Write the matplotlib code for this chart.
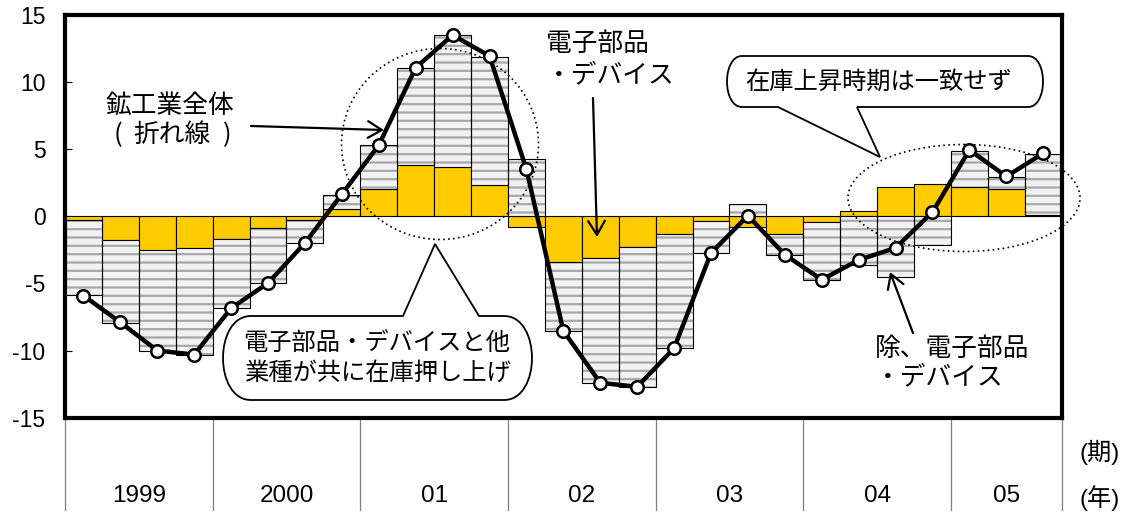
import numpy as np
import matplotlib.pyplot as plt
from matplotlib.patches import Ellipse, PathPatch
from matplotlib.path import Path
from matplotlib.transforms import Affine2D

plt.rcParams['font.family'] = ['Liberation Sans', 'Noto Sans CJK JP']
plt.rcParams['hatch.linewidth'] = 1.6
JP = 'Noto Sans CJK JP'

# ----------------------------
# Data: inventory, y/y contribution (%), 1999 Q1 - 2005 Q3
# ----------------------------
years = ["1999", "2000", "01", "02", "03", "04", "05"]
quarters_per_year = [4, 4, 4, 4, 4, 4, 3]

# 電子部品・デバイス
elec = [-0.25, -1.74, -2.54, -2.36, -1.66, -0.90, -0.25, 0.57,
        2.07, 3.80, 3.66, 2.37, -0.79, -3.43, -3.10, -2.28,
        -1.31, -0.32, -0.79, -1.30, -0.42, 0.37, 2.19, 2.42,
        2.19, 2.04, 0.13]
# 除、電子部品・デバイス
others = [-5.60, -6.22, -7.46, -7.94, -5.18, -4.07, -1.74, 1.05,
          3.23, 7.27, 9.84, 9.53, 4.30, -5.10, -9.29, -10.45,
          -8.51, -2.41, 0.93, -1.56, -4.30, -3.66, -4.52, -2.11,
          2.71, 0.87, 4.53]
# 鉱工業全体
total = [-5.90, -7.90, -10.00, -10.30, -6.84, -4.97, -1.99, 1.65,
         5.30, 11.07, 13.50, 11.95, 3.50, -8.53, -12.40, -12.70,
         -9.82, -2.73, 0.05, -2.86, -4.72, -3.25, -2.35, 0.32,
         4.95, 2.97, 4.70]

y_ticks = [-15, -10, -5, 0, 5, 10, 15]
y_labels = ["-15", "-10", "-5", "0", "5", "10", "15"]

# ----------------------------
# Figure / axes
# ----------------------------
W, H = 1131, 515
fig = plt.figure(figsize=(W / 100, H / 100), dpi=100)
ax = fig.add_axes([65 / W, 1 - 417.7 / H, 996.7 / W, 402.7 / H])

# pixel (top-left origin) -> figure
to_fig = Affine2D().scale(1 / W, -1 / H).translate(0, 1) + fig.transFigure


def P(x, y):
    return (x / W, 1 - y / H)


x = np.arange(len(total))
# stack the "others" bar on top of the electronics bar when signs agree
other_bottom = [e if (e >= 0) == (o >= 0) else 0 for e, o in zip(elec, others)]

ax.bar(x, elec, width=1.0, color="#FFCC00", edgecolor="black",
       linewidth=0.8, zorder=2)
ax.bar(x, others, width=1.0, bottom=other_bottom, color="#F2F2F2",
       edgecolor="#A8A8A8", hatch="--", linewidth=0, zorder=2)
ax.bar(x, others, width=1.0, bottom=other_bottom, fill=False,
       edgecolor="black", linewidth=0.8, zorder=2)

ax.plot(x, total, color="black", lw=3.2, marker="o", ms=9,
        mfc="white", mec="black", mew=1.8, zorder=6)

ax.set_xlim(-0.5, len(total) - 0.5)
ax.set_ylim(-15, 15)
ax.set_yticks(y_ticks)
ax.set_yticklabels(y_labels)
ax.tick_params(axis="y", direction="in", length=5, width=0.8,
               pad=14, labelsize=16.5)
ax.set_xticks([])
for s in ax.spines.values():
    s.set_linewidth(3)
    s.set_zorder(8)

# ----------------------------
# Year axis below the plot
# ----------------------------
trans = ax.get_xaxis_transform()
bounds = np.cumsum([0] + quarters_per_year) - 0.5
for b in bounds:
    ax.plot([b, b], [0, -0.23], transform=trans, color="#7F7F7F",
            lw=0.9, clip_on=False)
for i, yr in enumerate(years):
    c = (bounds[i] + bounds[i + 1]) / 2
    ax.text(c, -0.194, yr, transform=trans, ha="center", va="center",
            fontsize=17.5)

fig.text(*P(1100, 452), "(期)", ha="center", va="center", fontsize=17.5)
fig.text(*P(1100, 498), "(年)", ha="center", va="center", fontsize=17.5)

# ----------------------------
# Annotations
# ----------------------------
def bubble(x0, y0, x1, y1, rx, tail, side):
    """Rounded callout with bulging sides; tail = (base0, tip, base1)."""
    b0, tip, b1 = tail
    verts = [(x0 + rx, y0)]
    codes = [Path.MOVETO]
    if side == "top":
        verts += [(b0, y0), tip, (b1, y0)]
        codes += [Path.LINETO] * 3
    verts += [(x1 - rx, y0),
              (x1 + rx / 3, y0), (x1 + rx / 3, y1), (x1 - rx, y1)]
    codes += [Path.LINETO, Path.CURVE4, Path.CURVE4, Path.CURVE4]
    if side == "bottom":
        verts += [(b1, y1), tip, (b0, y1)]
        codes += [Path.LINETO] * 3
    verts += [(x0 + rx, y1),
              (x0 - rx / 3, y1), (x0 - rx / 3, y0), (x0 + rx, y0)]
    codes += [Path.LINETO, Path.CURVE4, Path.CURVE4, Path.CURVE4]
    verts.append((x0 + rx, y0))
    codes.append(Path.CLOSEPOLY)
    return PathPatch(Path(verts, codes), transform=to_fig, facecolor="white",
                     edgecolor="black", lw=1.3, clip_on=False, zorder=5)


ax.add_patch(bubble(223, 316, 532, 400, 28,
                    (403, (435, 244), 479), "top"))
ax.add_patch(bubble(727, 56, 1043, 107, 15,
                    (778, (880, 157), 857), "bottom"))

fig.text(*P(377, 343), "電子部品・デバイスと他", ha="center", va="center",
         fontsize=17.5, family=JP, zorder=7)
fig.text(*P(377, 373), "業種が共に在庫押し上げ", ha="center", va="center",
         fontsize=17.5, family=JP, zorder=7)
fig.text(*P(878, 82), "在庫上昇時期は一致せず", ha="center", va="center",
         fontsize=17.5, family=JP, zorder=7)

# dotted ellipses
for cx, cy, w, h in [(440, 144, 197, 191), (964, 198, 232, 107)]:
    ax.add_patch(Ellipse((cx, cy), w, h, transform=to_fig, fill=False,
                         edgecolor="black", lw=1.2, ls=(0, (1, 2)),
                         clip_on=False, zorder=4))

# free labels
fig.text(*P(105, 106), "鉱工業全体", ha="left", va="center",
         fontsize=18.5, family=JP)
fig.text(*P(118, 135), "(", ha="center", va="center",
         fontsize=18.5, family=JP)
fig.text(*P(172, 135), "折れ線", ha="center", va="center",
         fontsize=18.5, family=JP)
fig.text(*P(227, 135), ")", ha="center", va="center",
         fontsize=18.5, family=JP)
fig.text(*P(546, 44), "電子部品", ha="left", va="center",
         fontsize=18.5, family=JP)
fig.text(*P(546, 75), "・デバイス", ha="left", va="center",
         fontsize=18.5, family=JP)
fig.text(*P(875, 349), "除、電子部品", ha="left", va="center",
         fontsize=18.5, family=JP)
fig.text(*P(875, 377), "・デバイス", ha="left", va="center",
         fontsize=18.5, family=JP)

arrow_style = dict(arrowstyle="->,head_length=0.5,head_width=0.3",
                   lw=1.6, color="black", mutation_scale=20,
                   shrinkA=0, shrinkB=0)
for start, tip in [((251, 126), (384, 130)),
                   ((593, 98), (597, 237)),
                   ((913, 333), (890, 272))]:
    ax.annotate("", xy=P(*tip), xytext=P(*start), xycoords="figure fraction",
                textcoords="figure fraction", arrowprops=arrow_style,
                zorder=7, annotation_clip=False)

plt.savefig("out.png", dpi=100)
